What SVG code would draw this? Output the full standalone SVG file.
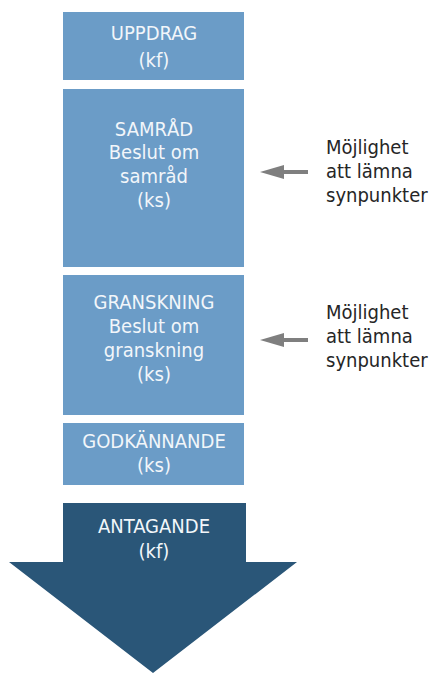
<svg xmlns="http://www.w3.org/2000/svg" width="433" height="673" viewBox="0 0 433 673">
<style>
.box{fill:#6b9cc7}
.dark{fill:#2a5678}
.t{font-family:"DejaVu Sans","Liberation Sans",sans-serif;font-stretch:condensed;font-size:20px;fill:#f2f6fa;text-anchor:middle}
.s{font-family:"DejaVu Sans","Liberation Sans",sans-serif;font-stretch:condensed;font-size:20px;fill:#262626}
.c{stroke:#7f7f7f;stroke-width:4;fill:none}
.h{fill:#7f7f7f}
</style>
<rect width="433" height="673" fill="#fff"/>
<g id="uppdrag"><rect class="box" x="63" y="12" width="181" height="68"/>
<text class="t" x="154" y="40">UPPDRAG</text><text class="t" x="154" y="67">(kf)</text></g>
<g id="samrad"><rect class="box" x="63" y="89" width="181" height="178"/>
<text class="t" x="154" y="136">SAMRÅD</text><text class="t" x="154" y="159">Beslut om</text><text class="t" x="154" y="183">samråd</text><text class="t" x="154" y="207">(ks)</text></g>
<g id="granskning"><rect class="box" x="63" y="275" width="181" height="140"/>
<text class="t" x="154" y="309">GRANSKNING</text><text class="t" x="154" y="333">Beslut om</text><text class="t" x="154" y="357">granskning</text><text class="t" x="154" y="381">(ks)</text></g>
<g id="godkannande"><rect class="box" x="63" y="423" width="181" height="62"/>
<text class="t" x="154" y="448">GODKÄNNANDE</text><text class="t" x="154" y="472">(ks)</text></g>
<g id="antagande"><path class="dark" d="M63 503H246V562H297L153 673L9 562H63Z"/>
<text class="t" x="154" y="533">ANTAGANDE</text><text class="t" x="154" y="558">(kf)</text></g>
<g id="note1"><text class="s" x="326" y="154">Möjlighet</text><text class="s" x="326" y="178">att lämna</text><text class="s" x="326" y="202">synpunkter</text></g>
<g id="note2"><text class="s" x="326" y="319">Möjlighet</text><text class="s" x="326" y="343">att lämna</text><text class="s" x="326" y="367">synpunkter</text></g>
<g id="connectors">
<line class="c" x1="308" y1="172" x2="280" y2="172"/><path class="h" d="M260 172L284 165V179Z"/>
<line class="c" x1="308" y1="340" x2="280" y2="340"/><path class="h" d="M260 340L284 333V347Z"/>
</g>
</svg>
